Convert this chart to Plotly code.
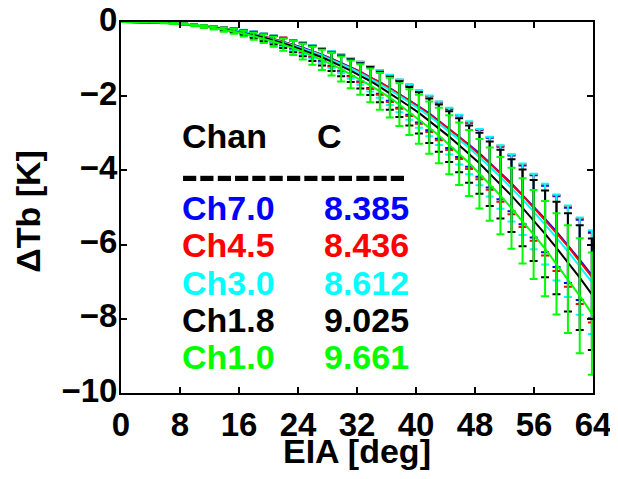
import plotly.graph_objects as go

# EIA positions of the binned points [deg]
eia = [0.45, 1.8, 3.15, 4.5, 5.85, 7.2, 8.55, 9.9, 11.25, 12.6, 13.95, 15.3, 16.65, 18.0,
       19.35, 20.7, 22.0, 23.35, 24.65, 25.95, 27.25, 28.55, 29.85, 31.15, 32.45, 33.8,
       35.1, 36.45, 37.75, 39.1, 40.4, 41.8, 43.1, 44.5, 45.85, 47.2, 48.6, 50.0, 51.45,
       52.95, 54.45, 55.95, 57.5, 59.05, 60.6, 62.2, 63.85]

# Mean dTb [K] per channel
ch70_mean = [0.00, 0.00, -0.01, -0.01, -0.02, -0.04, -0.06, -0.08, -0.11, -0.14, -0.18, -0.22,
             -0.27, -0.32, -0.39, -0.46, -0.53, -0.61, -0.69, -0.78, -0.88, -0.99, -1.10, -1.22,
             -1.34, -1.49, -1.62, -1.78, -1.94, -2.10, -2.28, -2.46, -2.66, -2.87, -3.08, -3.31,
             -3.54, -3.79, -4.07, -4.35, -4.66, -4.97, -5.31, -5.65, -6.02, -6.41, -6.83]
ch45_mean = [0.00, 0.00, -0.01, -0.01, -0.02, -0.04, -0.06, -0.08, -0.11, -0.14, -0.18, -0.22,
             -0.27, -0.33, -0.39, -0.46, -0.53, -0.62, -0.70, -0.79, -0.89, -1.00, -1.11, -1.22,
             -1.35, -1.50, -1.63, -1.79, -1.95, -2.11, -2.29, -2.48, -2.67, -2.89, -3.10, -3.33,
             -3.57, -3.81, -4.09, -4.38, -4.68, -5.00, -5.34, -5.69, -6.05, -6.45, -6.87]
ch30_mean = [0.00, 0.00, -0.01, -0.01, -0.02, -0.04, -0.06, -0.08, -0.11, -0.15, -0.19, -0.22,
             -0.27, -0.33, -0.40, -0.47, -0.55, -0.63, -0.71, -0.81, -0.91, -1.02, -1.13, -1.25,
             -1.38, -1.53, -1.67, -1.83, -1.99, -2.16, -2.34, -2.53, -2.73, -2.94, -3.17, -3.39,
             -3.64, -3.90, -4.18, -4.47, -4.78, -5.11, -5.45, -5.81, -6.18, -6.58, -7.01]
ch18_mean = [0.00, 0.00, -0.01, -0.01, -0.02, -0.04, -0.06, -0.09, -0.12, -0.15, -0.20, -0.23,
             -0.29, -0.35, -0.42, -0.49, -0.57, -0.66, -0.75, -0.85, -0.95, -1.07, -1.18, -1.31,
             -1.45, -1.59, -1.75, -1.92, -2.08, -2.27, -2.45, -2.66, -2.86, -3.09, -3.32, -3.56,
             -3.81, -4.09, -4.37, -4.68, -5.01, -5.35, -5.71, -6.09, -6.48, -6.89, -7.34]
ch10_mean = [0.00, 0.00, -0.01, -0.01, -0.03, -0.04, -0.06, -0.09, -0.12, -0.16, -0.21, -0.25,
             -0.31, -0.38, -0.45, -0.53, -0.61, -0.70, -0.80, -0.91, -1.02, -1.14, -1.27, -1.41,
             -1.55, -1.71, -1.87, -2.04, -2.23, -2.43, -2.62, -2.85, -3.06, -3.31, -3.55, -3.80,
             -4.09, -4.37, -4.68, -5.02, -5.36, -5.73, -6.11, -6.52, -6.93, -7.38, -7.86]

# Error-bar half lengths [K] per channel
ch70_err = [0, 0, 0.001, 0.002, 0.004, 0.007, 0.011, 0.015, 0.021, 0.027, 0.034, 0.043, 0.053,
            0.063, 0.076, 0.089, 0.103, 0.119, 0.135, 0.153, 0.172, 0.192, 0.214, 0.237, 0.261,
            0.288, 0.316, 0.342, 0.369, 0.398, 0.427, 0.459, 0.490, 0.524, 0.558, 0.593, 0.630,
            0.668, 0.708, 0.751, 0.794, 0.839, 0.896, 0.955, 1.016, 1.081, 1.152]
ch45_err = [0, 0, 0.001, 0.002, 0.005, 0.007, 0.011, 0.016, 0.022, 0.029, 0.036, 0.046, 0.056,
            0.067, 0.080, 0.094, 0.109, 0.126, 0.143, 0.162, 0.182, 0.203, 0.226, 0.251, 0.277,
            0.305, 0.334, 0.363, 0.391, 0.422, 0.453, 0.487, 0.520, 0.557, 0.593, 0.631, 0.670,
            0.711, 0.754, 0.800, 0.847, 0.895, 0.956, 1.019, 1.084, 1.154, 1.229]
ch30_err = [0, 0, 0.001, 0.003, 0.005, 0.008, 0.013, 0.018, 0.024, 0.032, 0.041, 0.051, 0.063,
            0.076, 0.090, 0.106, 0.122, 0.141, 0.161, 0.182, 0.204, 0.229, 0.254, 0.282, 0.311,
            0.343, 0.375, 0.408, 0.440, 0.475, 0.510, 0.549, 0.587, 0.629, 0.670, 0.713, 0.759,
            0.806, 0.855, 0.908, 0.963, 1.018, 1.087, 1.159, 1.233, 1.313, 1.398]
ch18_err = [0, 0, 0.001, 0.003, 0.006, 0.009, 0.014, 0.020, 0.027, 0.035, 0.045, 0.056, 0.069,
            0.083, 0.098, 0.116, 0.134, 0.154, 0.176, 0.199, 0.224, 0.250, 0.279, 0.309, 0.340,
            0.375, 0.411, 0.446, 0.481, 0.519, 0.557, 0.599, 0.639, 0.683, 0.728, 0.773, 0.822,
            0.870, 0.924, 0.979, 1.036, 1.094, 1.168, 1.245, 1.325, 1.411, 1.502]
ch10_err = [0, 0, 0.002, 0.004, 0.007, 0.011, 0.017, 0.024, 0.032, 0.043, 0.054, 0.068, 0.083,
            0.100, 0.119, 0.140, 0.162, 0.187, 0.213, 0.241, 0.271, 0.303, 0.337, 0.373, 0.412,
            0.454, 0.497, 0.537, 0.576, 0.618, 0.659, 0.704, 0.747, 0.795, 0.841, 0.888, 0.937,
            0.987, 1.039, 1.093, 1.147, 1.200, 1.282, 1.366, 1.454, 1.548, 1.649]

channels = ["Ch7.0", "Ch4.5", "Ch3.0", "Ch1.8", "Ch1.0"]
c_values = ["8.385", "8.436", "8.612", "9.025", "9.661"]
colors = ["#0000FF", "#FF0000", "#00FFFF", "#000000", "#00FF00"]
means = [ch70_mean, ch45_mean, ch30_mean, ch18_mean, ch10_mean]
errs = [ch70_err, ch45_err, ch30_err, ch18_err, ch10_err]

x_ticks = [0, 8, 16, 24, 32, 40, 48, 56, 64]
y_ticks = [0, -2, -4, -6, -8, -10]
y_ticktext = ["0", "\u22122", "\u22124", "\u22126", "\u22128", "\u221210"]

FONT = "Liberation Sans, Arial, Helvetica, sans-serif"

fig = go.Figure()
for name, col, m, e in zip(channels, colors, means, errs):
    fig.add_trace(go.Scatter(
        x=eia, y=m, mode="lines", name=name,
        line=dict(color=col, width=2),
        error_y=dict(type="data", array=e, visible=True, color=col, thickness=2, width=4),
        showlegend=False,
    ))

# Text table inside the axes
row_y = [-5.00, -6.00, -7.03, -8.03, -9.04]
ann = [
    dict(x=7.95, y=-3.06, text="Chan", font=dict(color="black")),
    dict(x=26.3, y=-3.06, text="C", font=dict(color="black")),
]
for ry, name, cv, col in zip(row_y, channels, c_values, colors):
    ann.append(dict(x=7.95, y=ry, text=name, font=dict(color=col)))
    ann.append(dict(x=27.2, y=ry, text=cv, font=dict(color=col)))
annotations = []
for a in ann:
    a["font"].update(family=FONT, size=34, weight="bold")
    annotations.append(dict(xref="x", yref="y", xanchor="left", yanchor="middle",
                            showarrow=False, height=30, **a))
annotations.append(dict(xref="x", yref="y", x=7.85, y=-4.11, xanchor="left", yanchor="middle",
                        showarrow=False, text="-" * 13, height=14,
                        font=dict(family=FONT, size=52, weight="bold", color="black")))
# axis titles
title_font = dict(family=FONT, size=34, weight="bold", color="black")
annotations.append(dict(xref="paper", yref="paper", x=0.5, y=-0.156, xanchor="center",
                        yanchor="middle", showarrow=False, text="EIA [deg]", font=title_font))
annotations.append(dict(xref="paper", yref="paper", x=-0.196, y=0.49, xanchor="center",
                        yanchor="middle", showarrow=False, text="\u0394Tb [K]",
                        textangle=-90, font=title_font))

axis_common = dict(
    showline=True, linecolor="black", linewidth=2, mirror="ticks",
    ticks="inside", ticklen=6, tickwidth=2, tickcolor="black",
    showgrid=False, zeroline=False, automargin=False, ticklabeloverflow="allow",
    tickfont=dict(family=FONT, size=33, weight="bold", color="black"),
)

# page body adds an 8 px offset, so the figure is 8 px smaller each way
fig.update_layout(
    width=610, height=471,
    margin=dict(l=113, r=25, t=14, b=86),
    paper_bgcolor="white", plot_bgcolor="white",
    xaxis=dict(range=[0, 64], tickvals=x_ticks, ticktext=[str(v) for v in x_ticks],
               ticklabelstandoff=1, **axis_common),
    yaxis=dict(range=[-10, 0], tickvals=y_ticks, ticktext=y_ticktext,
               ticklabelstandoff=-5, ticklabelshift=-3, **axis_common),
    annotations=annotations,
)

fig.write_html("out.html")
